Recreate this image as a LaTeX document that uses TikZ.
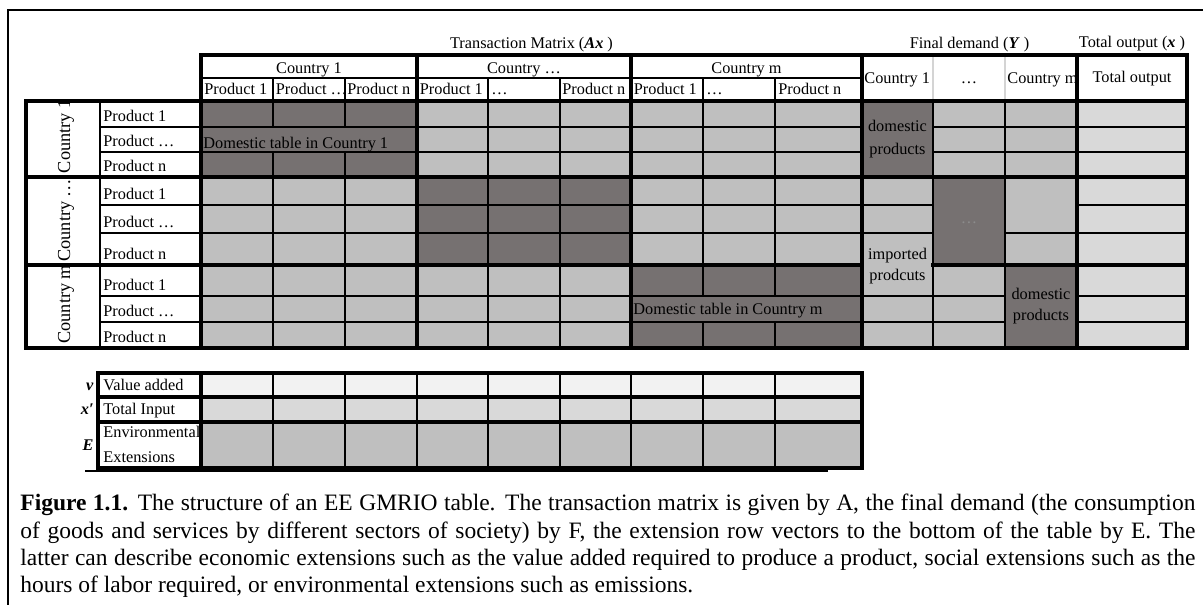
\documentclass[tikz,border=0pt]{standalone}
\usepackage{fontspec}
\setmainfont{Liberation Serif}
\usetikzlibrary{calc}
\definecolor{domgray}{RGB}{118,113,113}
\definecolor{midgray}{RGB}{191,191,191}
\definecolor{outgray}{RGB}{217,217,217}
\definecolor{palegray}{RGB}{242,242,242}
\definecolor{sepgray}{RGB}{212,212,212}
\def\celltxt{\fontsize{8.15}{11}\selectfont}
\def\rottxt{\fontsize{9.15}{11}\selectfont}
\def\captxt{\fontsize{11.75}{13.6}\selectfont\tolerance=9999\hyphenpenalty=10000}
\tikzset{
  thinrule/.style={line width=1pt},
  blockrule/.style={line width=2pt, line cap=rect},
  midrule/.style={line width=1.6pt, line cap=rect},
  seprule/.style={line width=0.8pt, sepgray},
  framerule/.style={line width=1.1pt},
  celltext/.style={font=\celltxt, inner sep=0pt, anchor=base west},
  midtext/.style={font=\celltxt, inner sep=0pt, anchor=base},
  twoline/.style={font=\fontsize{8.15}{#1}\selectfont, inner sep=0pt, align=center},
  rotlabel/.style={font=\rottxt, inner sep=0pt, anchor=base west, rotate=90}
}

\begin{document}
\begin{tikzpicture}[x=0.5pt,y=-0.5pt]
			%%%%% START %%%%%
			\useasboundingbox (0,0) rectangle (1203,605);
			
			% cell fills
			\fill[midgray] (201,101) rectangle (1077,348);
			\fill[domgray] (201,101) rectangle (417,177);
			\fill[domgray] (417,177) rectangle (631,265);
			\fill[domgray] (631,265) rectangle (862,348);
			\fill[domgray] (862,101) rectangle (933,177);
			\fill[domgray] (933,177) rectangle (1005,265);
			\fill[domgray] (1005,265) rectangle (1077,348);
			\fill[outgray] (1077,101) rectangle (1187,348);
			
			\fill[palegray] (201,373) rectangle (862,397);
			\fill[outgray] (201,397) rectangle (862,422);
			\fill[midgray] (201,422) rectangle (862,468);
			
			% titles over the table
			\node[midtext] (tmat) at (531.5,48) {Transaction Matrix (\textbf{\textit{Ax}} )};
			\node[midtext] (fdem) at (969.5,48) {Final demand (\textbf{\textit{Y}} )};
			\node[midtext] (tout) at (1132,47) {Total output (\textbf{\textit{x}} )};
			
			% column heads
			\node[midtext] (hc1) at (309,73) {Country 1};
			\node[midtext] (hcd) at (524,73) {Country …};
			\node[midtext] (hcm) at (746.5,73) {Country m};
			
			\node[celltext] (hc1p1) at (204,94.5) {Product 1};
			\begin{scope}
				\clip (273,78) rectangle (345,100);
				\node[celltext] (hc1pd) at (275.5,94.5) {Product …};
			\end{scope}
			\node[celltext] (hc1pn) at (347,94.5) {Product n};
			\node[celltext] (hcdp1) at (419.5,94.5) {Product 1};
			\node[celltext] (hcdpd) at (491,94.5) {…};
			\node[celltext] (hcdpn) at (562,94.5) {Product n};
			\node[celltext] (hcmp1) at (633.5,94.5) {Product 1};
			\node[celltext] (hcmpd) at (706,94.5) {…};
			\node[celltext] (hcmpn) at (778,94.5) {Product n};
			
			\node[celltext] (hf1) at (864,83) {Country 1};
			\node[midtext] (hfd) at (969,83) {…};
			\node[celltext] (hfm) at (1007,83) {Country m};
			\node[midtext] (htot) at (1132,82) {Total output};
			
			% row heads
			\begin{scope}
				\clip (26,101) rectangle (100,177);
				\node[rotlabel] (rc1) at (70,173.5) {Country 1};
			\end{scope}
			\begin{scope}
				\clip (26,177) rectangle (100,265);
				\node[rotlabel] (rcd) at (70,262) {Country …};
			\end{scope}
			\begin{scope}
				\clip (26,265) rectangle (100,348);
				\node[rotlabel] (rcm) at (70,344) {Country m};
			\end{scope}
			
			\node[celltext] (rc1p1) at (103,121.5) {Product 1};
			\node[celltext] (rc1pd) at (103,146.5) {Product …};
			\node[celltext] (rc1pn) at (103,171.5) {Product n};
			\node[celltext] (rcdp1) at (103,199.5) {Product 1};
			\node[celltext] (rcdpd) at (103,227.5) {Product …};
			\node[celltext] (rcdpn) at (103,259.5) {Product n};
			\node[celltext] (rcmp1) at (103,290.5) {Product 1};
			\node[celltext] (rcmpd) at (103,316.5) {Product …};
			\node[celltext] (rcmpn) at (103,342.5) {Product n};
			
			% merged cells
			\node[celltext] (dom1) at (203,148.5) {Domestic table in Country 1};
			\node[celltext] (domm) at (633,314.5) {Domestic table in Country m};
			\node[twoline=11.5pt] (fdom1) at (897.5,139) {domestic\\products};
			\node[midtext, text=black!45] (fdots) at (969,223) {…};
			\node[twoline=10.9pt] (fimp) at (897.5,266) {imported\\prodcuts};
			\node[twoline=10.5pt] (fdomm) at (1041,306.5) {domestic\\products};
			
			% grid, thin
			\draw[thinrule] (201,78) -- (862,78);
			\draw[thinrule] (100,127) -- (862,127) (933,127) -- (1187,127);
			\draw[thinrule] (100,152) -- (862,152) (933,152) -- (1187,152);
			\draw[thinrule] (100,205) -- (933,205) (1077,205) -- (1187,205);
			\draw[thinrule] (100,233) -- (933,233) (1005,233) -- (1187,233);
			\draw[thinrule] (100,296) -- (1005,296) (1077,296) -- (1187,296);
			\draw[thinrule] (100,322) -- (1005,322) (1077,322) -- (1187,322);
			
			\draw[thinrule] (100,101) -- (100,348);
			\draw[thinrule] (273,78) -- (273,127) (273,152) -- (273,348);
			\draw[thinrule] (345,78) -- (345,127) (345,152) -- (345,348);
			\draw[thinrule] (488,78) -- (488,348);
			\draw[thinrule] (560,78) -- (560,348);
			\draw[thinrule] (703,78) -- (703,296) (703,322) -- (703,348);
			\draw[thinrule] (775,78) -- (775,296) (775,322) -- (775,348);
			\draw[thinrule] (933,101) -- (933,348);
			\draw[thinrule] (1005,101) -- (1005,348);
			\draw[seprule] (933,56) -- (933,100) (1005,56) -- (1005,100);
			
			% grid, blocks
			\draw[blockrule] (201,55) -- (1187,55);
			\draw[blockrule] (26,101) -- (1187,101);
			\draw[blockrule] (26,177) -- (1187,177);
			\draw[blockrule] (26,265) -- (862,265) (933,265) -- (1187,265);
			\draw[blockrule] (26,348) -- (1187,348);
			\draw[blockrule] (26,101) -- (26,348);
			\draw[blockrule] (201,55) -- (201,348);
			\draw[blockrule] (417,55) -- (417,348);
			\draw[blockrule] (631,55) -- (631,348);
			\draw[blockrule] (862,55) -- (862,348);
			\draw[blockrule] (1077,55) -- (1077,348);
			\draw[blockrule] (1187,55) -- (1187,348);
			
			% extension rows
			\node[celltext, anchor=base east] (sv) at (94,390) {\textbf{\textit{v}}};
			\node[celltext, anchor=base east] (sx) at (94,414) {\textbf{\textit{x′}}};
			\node[celltext, anchor=base east] (se) at (94,450) {\textbf{\textit{E}}};
			\node[celltext] (lva) at (103,390) {Value added};
			\node[celltext] (lti) at (103,414) {Total Input};
			\node[celltext] (lee) at (103,437) {Environmental};
			\node[celltext] (lex) at (103,462.5) {Extensions};
			
			\draw[thinrule] (273,373) -- (273,468);
			\draw[thinrule] (345,373) -- (345,468);
			\draw[thinrule] (417,373) -- (417,468);
			\draw[thinrule] (488,373) -- (488,468);
			\draw[thinrule] (560,373) -- (560,468);
			\draw[thinrule] (631,373) -- (631,468);
			\draw[thinrule] (703,373) -- (703,468);
			\draw[thinrule] (775,373) -- (775,468);
			\draw[midrule] (98,397) -- (862,397);
			\draw[midrule] (98,422) -- (862,422);
			\draw[blockrule] (201,373) -- (201,468);
			\draw[blockrule] (98,373) rectangle (862,468);
			
			% frame and caption
			\draw[framerule] (1203,10) -- (8,10) -- (8,605);
			\draw[line width=0.8pt] (85,471) -- (828,471);
			
			\node[font=\captxt, text width=587.5pt, align=justify, inner sep=0pt, anchor=north west] (capt) at (20,494)
				{\textbf{Figure 1.1.} The structure of an EE GMRIO table. The transaction matrix is given by A, the final demand (the consumption\linebreak
				of goods and services by different sectors of society) by F, the extension row vectors to the bottom of the table by E. The\linebreak
				latter can describe economic extensions such as the value added required to produce a product, social extensions such as the\linebreak
				hours of labor required, or environmental extensions such as emissions.};
			
			%%%%% END %%%%%
		\end{tikzpicture}
\end{document}
